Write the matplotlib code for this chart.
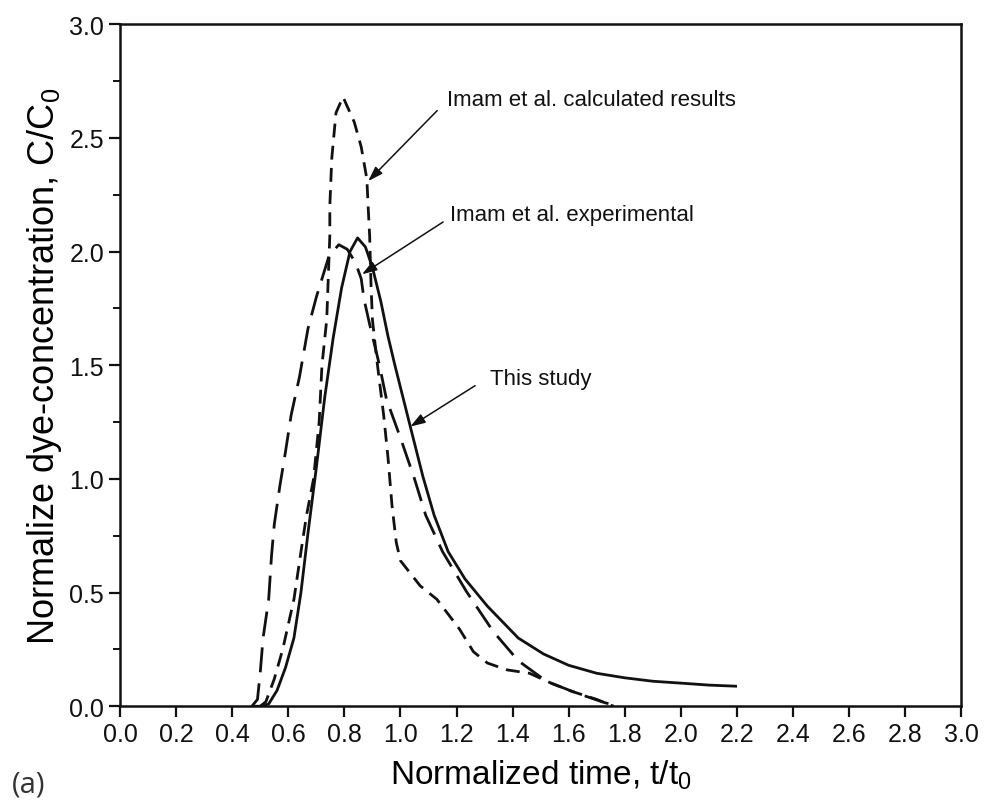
import matplotlib

matplotlib.use("Agg")
import matplotlib.pyplot as plt  # noqa: E402
from matplotlib.ticker import MultipleLocator  # noqa: E402

INK = "#111111"
FONT = ["Liberation Sans Narrow", "Liberation Sans", "DejaVu Sans"]

# "This study" (solid)
study_t = [0.48, 0.50, 0.53, 0.56, 0.59, 0.62, 0.645, 0.67, 0.70, 0.73, 0.76, 0.79,
           0.82, 0.847, 0.875, 0.90, 0.93, 0.955, 0.98, 1.035, 1.08, 1.12, 1.17, 1.23,
           1.31, 1.42, 1.51, 1.60, 1.70, 1.80, 1.90, 2.02, 2.10, 2.20]
study_c = [0.0, 0.0, 0.01, 0.07, 0.17, 0.30, 0.50, 0.76, 1.05, 1.36, 1.62, 1.84,
           2.00, 2.06, 2.02, 1.93, 1.78, 1.63, 1.50, 1.23, 1.01, 0.84, 0.68, 0.56,
           0.44, 0.30, 0.23, 0.18, 0.145, 0.125, 0.11, 0.10, 0.093, 0.088]

# Imam et al. experimental (long dash)
exp_t = [0.47, 0.49, 0.50, 0.51, 0.53, 0.54, 0.55, 0.57, 0.59, 0.61, 0.64, 0.67,
         0.70, 0.745, 0.78, 0.81, 0.84, 0.86, 0.87, 0.89, 0.925, 0.95, 1.0, 1.05,
         1.09, 1.15, 1.235, 1.33, 1.42, 1.52, 1.63, 1.73, 1.78]
exp_c = [0.0, 0.03, 0.15, 0.30, 0.47, 0.66, 0.80, 0.97, 1.12, 1.28, 1.45, 1.66,
         1.80, 1.98, 2.03, 2.01, 1.95, 1.88, 1.79, 1.68, 1.50, 1.35, 1.18, 1.00,
         0.84, 0.68, 0.505, 0.33, 0.20, 0.11, 0.057, 0.015, 0.0]

# Imam et al. calculated results (short dash)
calc_t = [0.50, 0.52, 0.55, 0.58, 0.62, 0.65, 0.665, 0.69, 0.71, 0.72, 0.737, 0.748,
          0.748, 0.755, 0.77, 0.795, 0.835, 0.86, 0.88, 0.885, 0.89, 0.895, 0.90,
          0.915, 0.94, 0.955, 0.97, 0.985, 1.0, 1.07, 1.13, 1.21, 1.26, 1.31, 1.38,
          1.46, 1.54, 1.61, 1.70, 1.76]
calc_c = [0.0, 0.02, 0.12, 0.25, 0.47, 0.72, 0.84, 1.00, 1.25, 1.50, 1.70, 2.07,
          2.20, 2.41, 2.61, 2.68, 2.57, 2.46, 2.32, 2.19, 2.07, 1.85, 1.70,
          1.53, 1.28, 1.10, 0.88, 0.72, 0.64, 0.53, 0.47, 0.34, 0.24, 0.19, 0.16,
          0.145, 0.10, 0.066, 0.03, 0.0]

x_ticks = [0.0, 0.2, 0.4, 0.6, 0.8, 1.0, 1.2, 1.4, 1.6, 1.8, 2.0, 2.2, 2.4, 2.6, 2.8, 3.0]
y_ticks = [0.0, 0.5, 1.0, 1.5, 2.0, 2.5, 3.0]

plt.rcParams.update(
    {
        "font.family": FONT,
        "text.color": INK,
        "axes.edgecolor": INK,
        "xtick.color": INK,
        "ytick.color": INK,
    }
)

fig = plt.figure(figsize=(9.84, 8.12), dpi=100)
ax = fig.add_axes([0.122, 0.129, 0.855, 0.840])

ax.plot(study_t, study_c, color=INK, linewidth=2.0, solid_capstyle="butt")
ax.plot(exp_t, exp_c, color=INK, linewidth=2.0, dashes=(9, 4))
ax.plot(calc_t, calc_c, color=INK, linewidth=2.0, dashes=(5, 3))

ax.set_xlim(0, 3.0)
ax.set_ylim(0, 3.0)
ax.set_xticks(x_ticks, labels=[f"{v:.1f}" for v in x_ticks])
ax.set_yticks(y_ticks, labels=[f"{v:.1f}" for v in y_ticks])
ax.yaxis.set_minor_locator(MultipleLocator(0.25))
ax.tick_params(axis="both", which="major", direction="out", length=8, width=1.6,
               labelsize=18, top=False, right=False)
ax.tick_params(axis="y", which="minor", direction="out", length=5, width=1.4)
for spine in ax.spines.values():
    spine.set_linewidth(1.8)

ax.set_xlabel(r"Normalized time, $\mathregular{t/t_0}$", fontsize=24, labelpad=8)
ax.set_ylabel(r"Normalize dye-concentration, $\mathregular{C/C_0}$", fontsize=26,
              labelpad=4)

arrow = dict(arrowstyle="-|>,head_length=0.9,head_width=0.3", color=INK,
             linewidth=1.1, shrinkA=0, shrinkB=0)
ax.annotate("", xy=(0.885, 2.31), xytext=(1.131, 2.62), arrowprops=arrow)
ax.annotate("", xy=(0.863, 1.90), xytext=(1.152, 2.13), arrowprops=arrow)
ax.annotate("", xy=(1.035, 1.23), xytext=(1.266, 1.41), arrowprops=arrow)
ax.text(1.167, 2.67, "Imam et al. calculated results", fontsize=16, va="center")
ax.text(1.177, 2.165, "Imam et al. experimental", fontsize=16, va="center")
ax.text(1.32, 1.44, "This study", fontsize=16, va="center")

fig.text(0.012, 0.033, "(a)", fontsize=21, family=["Open Sans", "DejaVu Sans"],
         color="#333333", va="center")

fig.savefig("out.png", dpi=100)
